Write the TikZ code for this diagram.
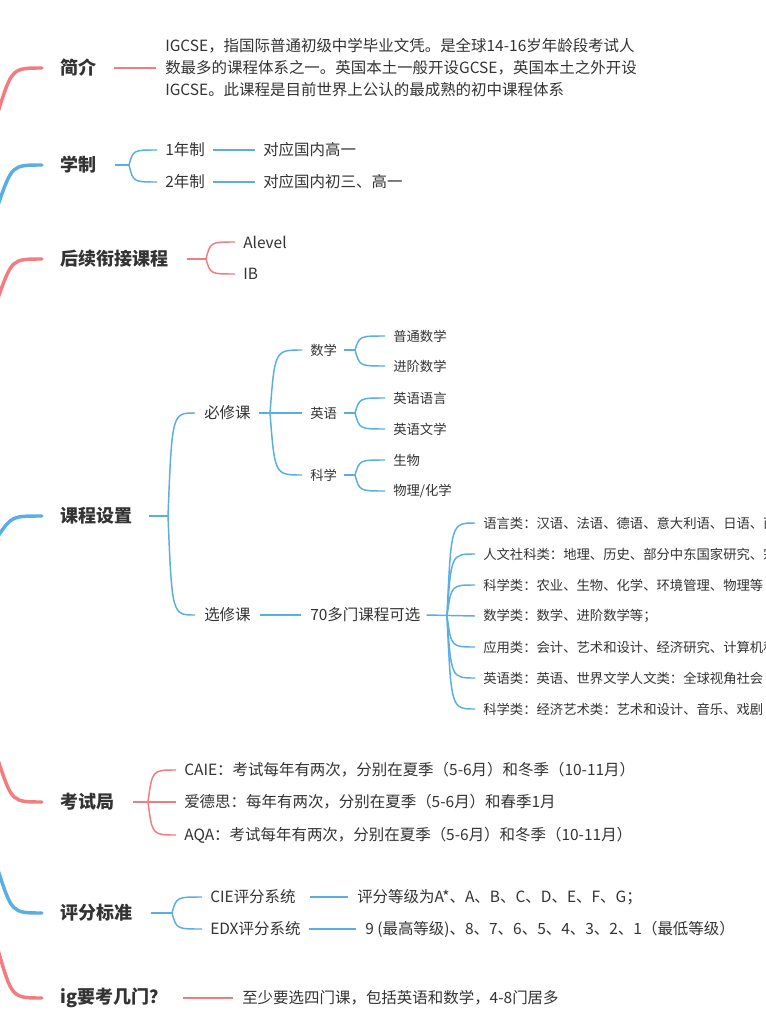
\documentclass[tikz,border=0pt]{standalone}
\usepackage{fontspec}
\setmainfont{Noto Sans CJK SC}
\usetikzlibrary{calc}
\definecolor{rd}{HTML}{F27C80}
\definecolor{bl}{HTML}{5AAEE2}
\definecolor{tx}{HTML}{333333}
\tikzset{
 main/.style={anchor=west,inner sep=0,font=\fontsize{13.5}{15}\selectfont\bfseries,text=tx},
 txt/.style={anchor=west,inner sep=0,font=\fontsize{11.6}{16.5}\selectfont,text=tx},
 sm/.style={anchor=west,inner sep=0,font=\fontsize{10}{12}\selectfont,text=tx},
 R/.style={draw=rd,line width=1.1pt},
 B/.style={draw=bl,line width=1.1pt},
 RR/.style={draw=rd,line width=2.6pt,line cap=round},
 BB/.style={draw=bl,line width=2.6pt,line cap=round},
}
\newcommand\brc[4]{%
 \path ($(#3.west)+(#4,0)$) coordinate (tT);
 \path ($(#2)!0.15!(tT)$) coordinate (cA);
 \draw[#1] (#2) .. controls (cA |- tT) .. (tT);}
\begin{document}
\begin{tikzpicture}[x=0.75pt,y=-0.75pt]
\useasboundingbox (0,0) rectangle (766,1024);
\clip (0,0) rectangle (766,1024);
\fill[white] (0,0) rectangle (766,1024);
% root curves
\coordinate (r1) at (-2,112); \coordinate (e1) at (42,68);
\coordinate (r2) at (-2,205); \coordinate (e2) at (42,165);
\coordinate (r3) at (-2,298); \coordinate (e3) at (42,259);
\coordinate (r4) at (-2,536); \coordinate (e4) at (42,516);
\coordinate (r5) at (-2,760); \coordinate (e5) at (42,802);
\coordinate (r6) at (-2,870); \coordinate (e6) at (42,913);
\coordinate (r7) at (-2,950); \coordinate (e7) at (42,998);
\draw[RR] (r1) .. controls (12,68) .. (e1);
\draw[BB] (r2) .. controls (12,165) .. (e2);
\draw[RR] (r3) .. controls (12,259) .. (e3);
\draw[BB] (r4) .. controls (12,516) .. (e4);
\draw[RR] (r5) .. controls (12,802) .. (e5);
\draw[BB] (r6) .. controls (12,913) .. (e6);
\draw[RR] (r7) .. controls (12,998) .. (e7);
% main labels
\node[main] (m1) at (60,68) {简介};
\node[main] (m2) at (60,165) {学制};
\node[main] (m3) at (60,259) {后续衔接课程};
\node[main] (m4) at (60,516) {课程设置};
\node[main] (m5) at (60,802) {考试局};
\node[main] (m6) at (60,913) {评分标准};
\node[main] (m7) at (60,998) {ig要考几门？};
% 简介
\node[txt,align=left] (t1) at (165,68) {IGCSE，指国际普通初级中学毕业文凭。是全球14-16岁年龄段考试人\\数最多的课程体系之一。英国本土一般开设GCSE，英国本土之外开设\\IGCSE。此课程是目前世界上公认的最成熟的初中课程体系};
\draw[R] ($(m1.east)+(17,0)$) -- ($(t1.west)+(-9,0)$);
% 学制
\node[txt] (y1) at (165,150) {1年制};
\node[txt] (y2) at (165,182) {2年制};
\node[txt] (z1) at (263,150) {对应国内高一};
\node[txt] (z2) at (263,182) {对应国内初三、高一};
\coordinate (j2) at (129,165);
\draw[B] ($(m2.east)+(18,0)$) -- (j2);
\brc{B}{j2}{y1}{-8}
\brc{B}{j2}{y2}{-8}
\draw[B] ($(y1.east)+(8,0)$) -- ($(z1.west)+(-8,0)$);
\draw[B] ($(y2.east)+(8,0)$) -- ($(z2.west)+(-8,0)$);
% 后续
\node[txt] (a1) at (243,242) {Alevel};
\node[txt] (a2) at (243,274) {IB};
\coordinate (j3) at (206,259);
\draw[R] ($(m3.east)+(18,0)$) -- (j3);
\brc{R}{j3}{a1}{-8}
\brc{R}{j3}{a2}{-8}
% 课程设置
\node[txt] (b1) at (204,413) {必修课};
\node[txt] (b2) at (204,615) {选修课};
\coordinate (j4) at (168,516);
\draw[B] ($(m4.east)+(16,0)$) -- (j4);
\brc{B}{j4}{b1}{-9}
\brc{B}{j4}{b2}{-9}
\node[sm] (s1) at (310,350) {数学};
\node[sm] (s2) at (310,413) {英语};
\node[sm] (s3) at (310,475) {科学};
\coordinate (jb) at (270,413);
\draw[B] ($(b1.east)+(8,0)$) -- (jb);
\brc{B}{jb}{s1}{-8}
\draw[B] (jb) -- ($(s2.west)+(-8,0)$);
\brc{B}{jb}{s3}{-8}
\node[sm] (c1) at (393,336) {普通数学};
\node[sm] (c2) at (393,366) {进阶数学};
\node[sm] (c3) at (393,398) {英语语言};
\node[sm] (c4) at (393,429) {英语文学};
\node[sm] (c5) at (393,460) {生物};
\node[sm] (c6) at (393,491) {物理/化学};
\coordinate (js1) at (355,350); \coordinate (js2) at (355,413); \coordinate (js3) at (355,475);
\draw[B] ($(s1.east)+(7,0)$) -- (js1);
\draw[B] ($(s2.east)+(7,0)$) -- (js2);
\draw[B] ($(s3.east)+(7,0)$) -- (js3);
\brc{B}{js1}{c1}{-8}
\brc{B}{js1}{c2}{-8}
\brc{B}{js2}{c3}{-8}
\brc{B}{js2}{c4}{-8}
\brc{B}{js3}{c5}{-8}
\brc{B}{js3}{c6}{-8}
\node[txt] (x0) at (310,615) {70多门课程可选};
\draw[B] ($(b2.east)+(9,0)$) -- ($(x0.west)+(-9,0)$);
\node[sm] (x1) at (483,523) {语言类：汉语、法语、德语、意大利语、日语、西};
\node[sm] (x2) at (483,554) {人文社科类：地理、历史、部分中东国家研究、宗};
\node[sm] (x3) at (483,585) {科学类：农业、生物、化学、环境管理、物理等};
\node[sm] (x4) at (483,616) {数学类：数学、进阶数学等；};
\node[sm] (x5) at (483,647) {应用类：会计、艺术和设计、经济研究、计算机科};
\node[sm] (x6) at (483,678) {英语类：英语、世界文学人文类：全球视角社会};
\node[sm] (x7) at (483,709) {科学类：经济艺术类：艺术和设计、音乐、戏剧};
\coordinate (jx) at (447,616);
\draw[B] ($(x0.east)+(6,0)$) -- ($(x4.west)+(-8,0)$);
\brc{B}{jx}{x1}{-8}
\brc{B}{jx}{x2}{-8}
\brc{B}{jx}{x3}{-8}
\brc{B}{jx}{x5}{-8}
\brc{B}{jx}{x6}{-8}
\brc{B}{jx}{x7}{-8}
% 考试局
\node[txt] (k1) at (184,770) {CAIE：考试每年有两次，分别在夏季（5-6月）和冬季（10-11月）};
\node[txt] (k2) at (184,802) {爱德思：每年有两次，分别在夏季（5-6月）和春季1月};
\node[txt] (k3) at (184,835) {AQA：考试每年有两次，分别在夏季（5-6月）和冬季（10-11月）};
\coordinate (j5) at (148,802);
\draw[R] ($(m5.east)+(18,0)$) -- (j5);
\brc{R}{j5}{k1}{-8}
\draw[R] (j5) -- ($(k2.west)+(-8,0)$);
\brc{R}{j5}{k3}{-8}
% 评分标准
\node[txt] (p1) at (210,897) {CIE评分系统};
\node[txt] (p2) at (210,929) {EDX评分系统};
\node[txt] (q1) at (357,897) {评分等级为A*、A、B、C、D、E、F、G；};
\node[txt] (q2) at (365,929) {9 (最高等级)、8、7、6、5、4、3、2、1（最低等级）};
\coordinate (j6) at (172,913);
\draw[B] ($(m6.east)+(18,0)$) -- (j6);
\brc{B}{j6}{p1}{-8}
\brc{B}{j6}{p2}{-8}
\draw[B] ($(p1.east)+(14,0)$) -- ($(q1.west)+(-9,0)$);
\draw[B] ($(p2.east)+(8,0)$) -- ($(q2.west)+(-9,0)$);
% ig
\node[txt] (g1) at (242,998) {至少要选四门课，包括英语和数学，4-8门居多};
\draw[R] ($(m7.east)+(16,0)$) -- ($(g1.west)+(-9,0)$);
\end{tikzpicture}
\end{document}
